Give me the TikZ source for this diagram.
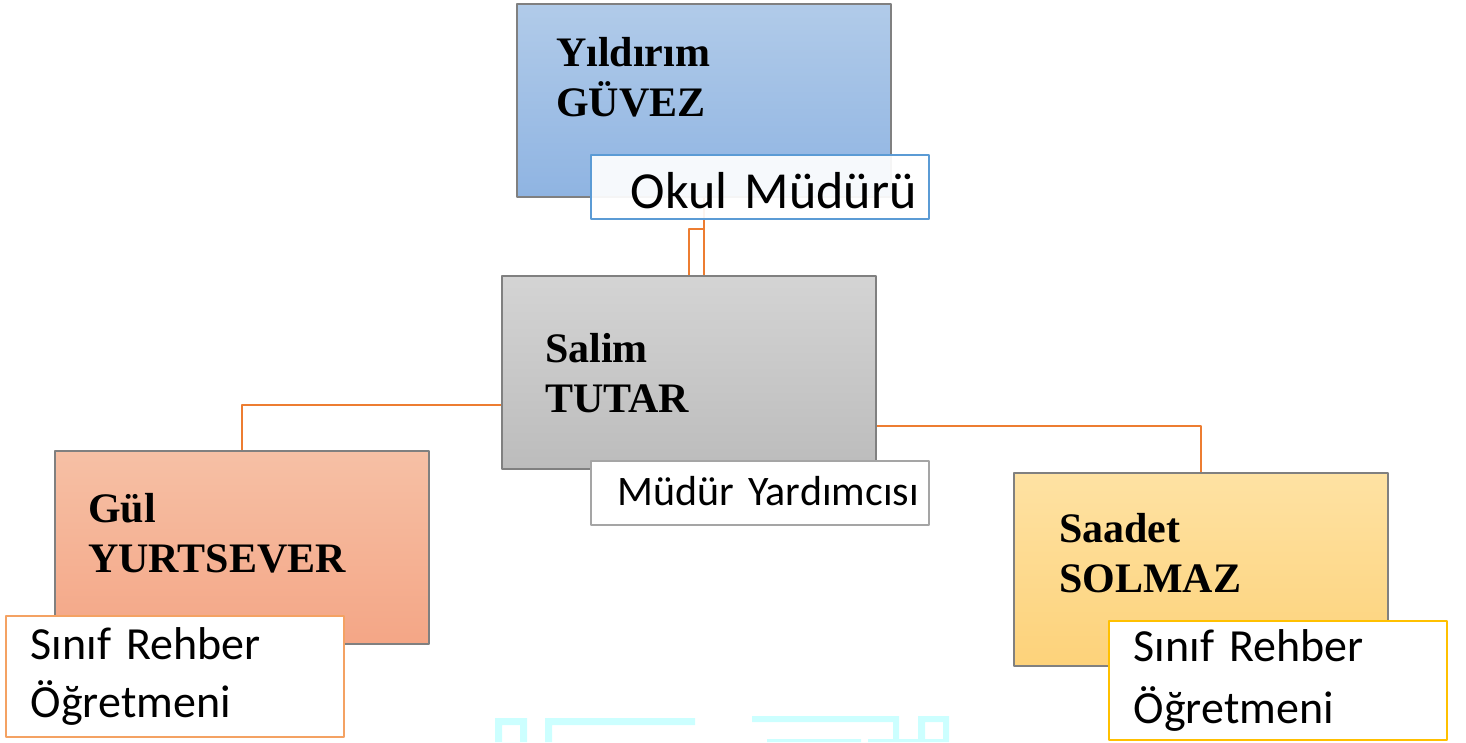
\documentclass[tikz,border=0pt]{standalone}
\usepackage{fontspec}
\setmainfont{Liberation Serif}
\newfontfamily\calibri{Carlito}
\definecolor{mavi1}{HTML}{B1CBE9}
\definecolor{mavi2}{HTML}{8FB4E2}
\definecolor{gri1}{HTML}{D4D4D4}
\definecolor{gri2}{HTML}{BCBCBC}
\definecolor{somon1}{HTML}{F6C0A5}
\definecolor{somon2}{HTML}{F4A686}
\definecolor{sari1}{HTML}{FEE2A3}
\definecolor{sari2}{HTML}{FDD27A}
\definecolor{turuncu}{HTML}{ED7D31}
\definecolor{cizgimavi}{HTML}{5B9BD5}
\definecolor{cizgigri}{HTML}{A5A5A5}
\definecolor{cizgiturun}{HTML}{F4A263}
\definecolor{cizgisari}{HTML}{FFC000}
\definecolor{acikmavi}{HTML}{CCFFFF}
\tikzset{
 kutu/.style={draw=black!50, line width=1.5pt, anchor=north west, minimum width=374pt, minimum height=193pt, inner sep=0pt},
 isim/.style={anchor=north west, inner sep=0pt, align=left, font=\fontsize{42}{50}\selectfont\bfseries},
 unvan/.style={fill=white, line width=1.5pt, anchor=north west, minimum width=338pt, inner ysep=0pt},
 bag/.style={draw=turuncu, line width=2.5pt},
 su/.style={fill=acikmavi, even odd rule}
}
\begin{document}
\begin{tikzpicture}[x=1pt, y=-1pt, line join=round]
 \useasboundingbox (0,0) rectangle (1466,742);
 % kutular
 \node[kutu, top color=mavi1, bottom color=mavi2] (mudur) at (516,3) {};
 \node[kutu, top color=gri1, bottom color=gri2] (yardimci) at (501,275) {};
 \node[kutu, top color=somon1, bottom color=somon2] (gul) at (54,450) {};
 \node[kutu, top color=sari1, bottom color=sari2] (saadet) at (1013,472) {};
 % isimler
 \node[isim] (mudurisim) at (556,37) {Yıldırım\\GÜVEZ};
 \node[isim] (yardimciisim) at (545,333) {Salim\\TUTAR};
 \node[isim] (gulisim) at (88,493) {Gül\\YURTSEVER};
 \node[isim] (saadetisim) at (1059,513) {Saadet\\SOLMAZ};
 % baglantilar
 \draw[bag] (mudur.south) -- (mudur.south |- yardimci.north);
 \draw[bag] (yardimci.north) -- ++(0,-46) -| (mudur.south);
 \draw[bag] (yardimci.west |- 0,405) -| (gul.north);
 \draw[bag] (yardimci.east |- 0,426) -| (saadet.north);
 % unvanlar
 \node[unvan, draw=cizgimavi, fill=white, fill opacity=0.92, text opacity=1, minimum height=64pt,
  inner xsep=12pt, text width=314pt, align=right, text height=44pt, text depth=0pt,
  font=\calibri\fontsize{52}{60}\selectfont] (mudurunvan) at (590,154) {Okul Müdürü};
 \node[unvan, draw=cizgigri, minimum height=64pt, inner xsep=10pt, text width=318pt, align=right,
  text height=30pt, text depth=4pt, font=\calibri\fontsize{42}{50}\selectfont] (yardimciunvan) at (590,460) {Müdür Yardımcısı};
 \node[unvan, draw=cizgiturun, minimum height=121pt, inner xsep=25pt, text width=288pt, align=left,
  font=\calibri\fontsize{46}{58}\selectfont] (gulunvan) at (5,615) {Sınıf Rehber\\Öğretmeni};
 \node[unvan, draw=cizgisari, minimum height=119pt, inner xsep=25pt, text width=288pt, align=left,
  font=\calibri\fontsize{46}{62}\selectfont] (saadetunvan) at (1108,620) {Sınıf Rehber\\Öğretmeni};
 % alttaki acik mavi parcalar
 \fill[su] (495,718) rectangle (527,742) (502,725) rectangle (520,742);
 \fill[su] (545,718) rectangle (695,725) (545,725) rectangle (552,742);
 \fill[su] (752,716) rectangle (899,722) (893,722) rectangle (899,739);
 \fill[su] (767,739) rectangle (861,742) (868,739) rectangle (949,742);
 \fill[su] (918,716) rectangle (949,739) (925,722) rectangle (943,739);
\end{tikzpicture}
\end{document}
